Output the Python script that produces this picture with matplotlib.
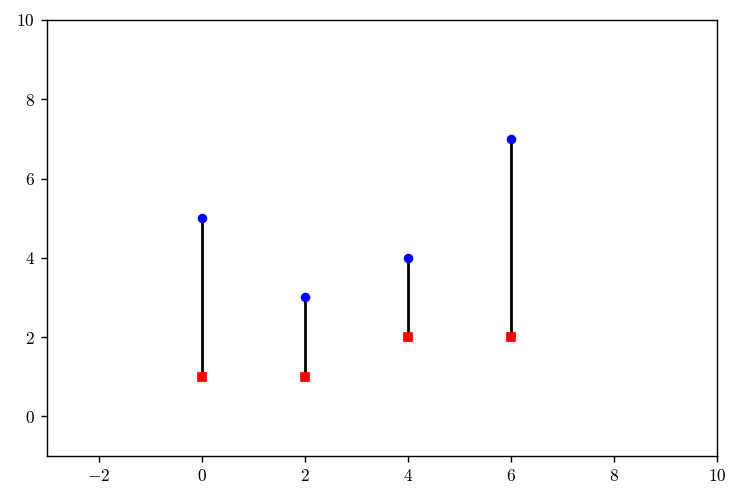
import matplotlib
matplotlib.use("Agg")
import matplotlib.pyplot as plt

x = [0, 2, 4, 6]
high = [5, 3, 4, 7]
low = [1, 1, 2, 2]

plt.rcParams['font.family'] = ['cmr10', 'DejaVu Serif']
plt.rcParams['mathtext.fontset'] = 'cm'
plt.rcParams['axes.formatter.use_mathtext'] = True

fig = plt.figure(figsize=(742/125, 504/125), dpi=125)
ax = fig.add_axes([47/742, 48/504, 670/742, 436/504])
ax.vlines(x, low, high, colors='black', linewidth=1.6, zorder=1)
ax.plot(x, high, 'o', color='blue', markersize=4.5, zorder=2)
ax.plot(x, low, 's', color='red', markersize=4.5, zorder=2)
ax.set_xlim(-3, 10)
ax.set_ylim(-1, 10)
ax.set_xticks([-2, 0, 2, 4, 6, 8, 10])
ax.set_yticks([0, 2, 4, 6, 8, 10])
fig.savefig("out.png", dpi=125)
